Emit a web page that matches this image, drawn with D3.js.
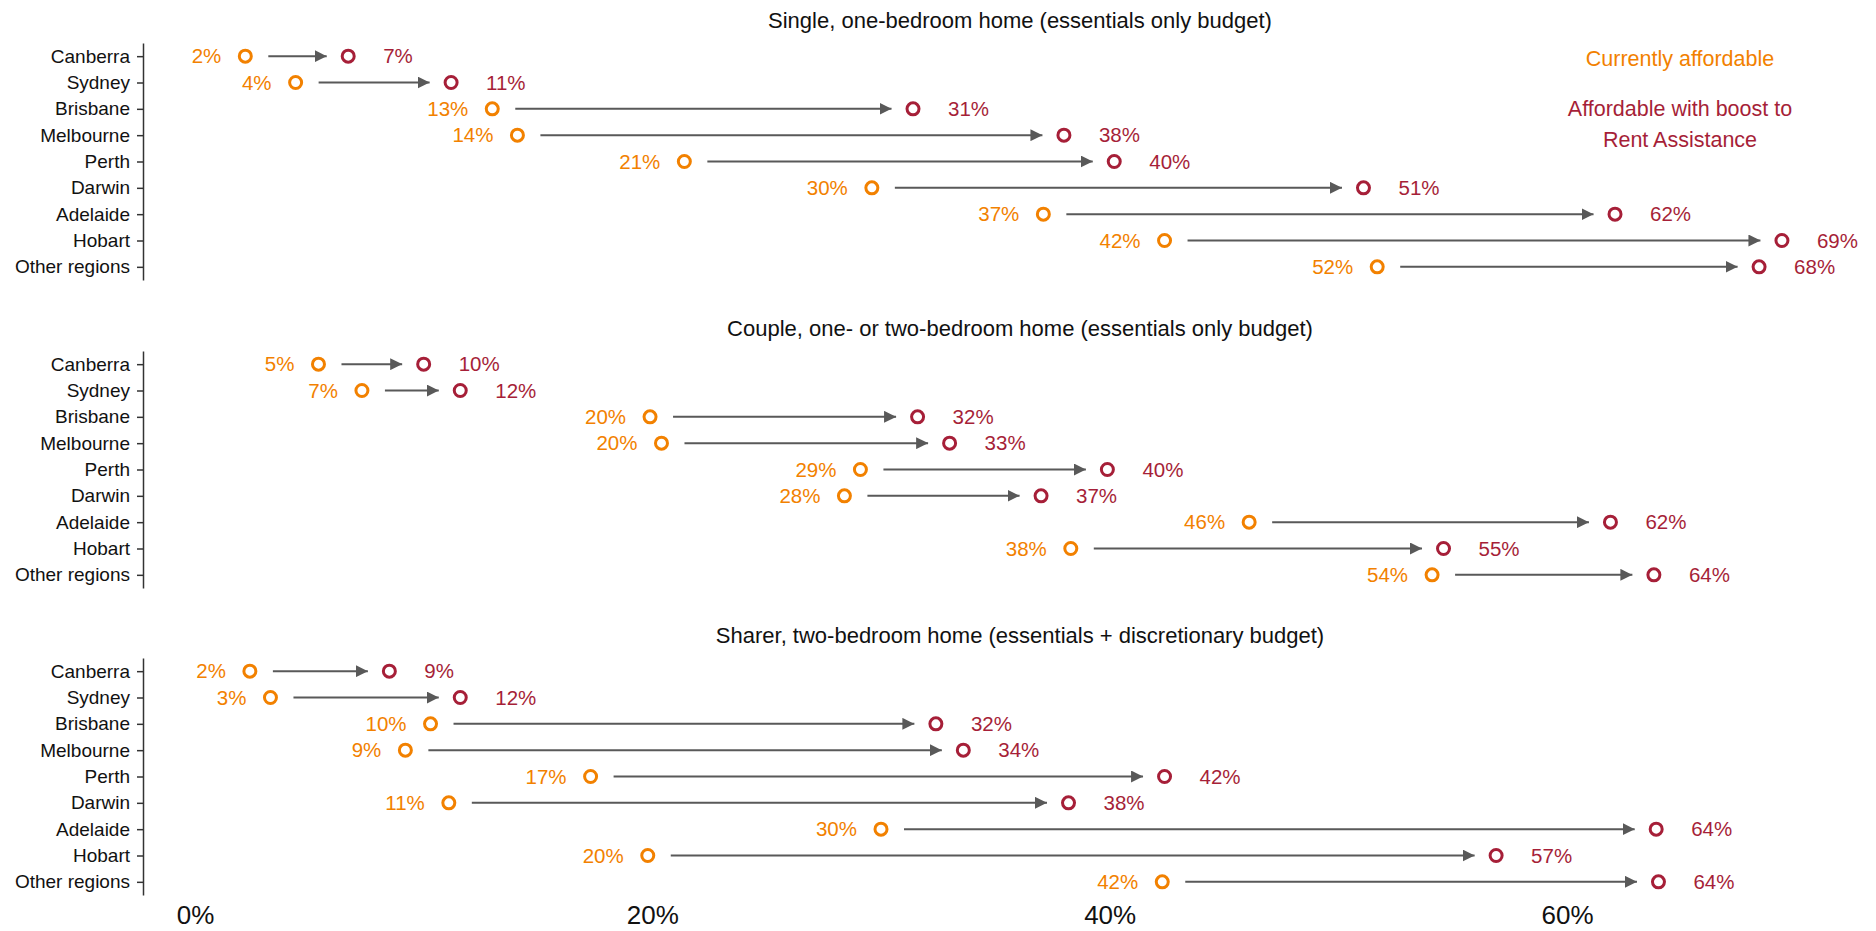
<!DOCTYPE html>
<html>
<head>
<meta charset="utf-8">
<script src="https://cdn.jsdelivr.net/npm/d3@7"></script>
<style>
  body { margin: 0; background: #fff; }
  svg text { font-family: "Liberation Sans", Arial, Helvetica, sans-serif; }
</style>
</head>
<body>
<div id="chart"></div>
<script>
// data (percent of rentals affordable)
var cities = ["Canberra", "Sydney", "Brisbane", "Melbourne", "Perth", "Darwin", "Adelaide", "Hobart", "Other regions"];
var panelTitles = [
	"Single, one-bedroom home (essentials only budget)",
	"Couple, one- or two-bedroom home (essentials only budget)",
	"Sharer, two-bedroom home (essentials + discretionary budget)"
];
var singleNow   = [2.2, 4.4, 13.0, 14.1, 21.4, 29.6, 37.1, 42.4, 51.7];
var singleBoost = [6.7, 11.2, 31.4, 38.0, 40.2, 51.1, 62.1, 69.4, 68.4];
var coupleNow   = [5.4, 7.3, 19.9, 20.4, 29.1, 28.4, 46.1, 38.3, 54.1];
var coupleBoost = [10.0, 11.6, 31.6, 33.0, 39.9, 37.0, 61.9, 54.6, 63.8];
var sharerNow   = [2.4, 3.3, 10.3, 9.2, 17.3, 11.1, 30.0, 19.8, 42.3];
var sharerBoost = [8.5, 11.6, 32.4, 33.6, 42.4, 38.2, 63.9, 56.9, 64.0];
var xTicks = [0, 20, 40, 60];
var legendLabels = ["Currently affordable", "Affordable with boost to", "Rent Assistance"];

var nowSeries = [singleNow, coupleNow, sharerNow];
var boostSeries = [singleBoost, coupleBoost, sharerBoost];

var width = 1876, height = 931;
var orange = "#F28100", red = "#A61F38", grey = "#595959";
var panelOffsets = [0, 308, 615];
var fmt = function(v) { return d3.format(".0f")(v) + "%"; };

var svg = d3.select("#chart").append("svg")
	.attr("width", width)
	.attr("height", height);

svg.append("defs").append("marker")
	.attr("id", "arrow")
	.attr("viewBox", "0 0 12 12")
	.attr("refX", 12)
	.attr("refY", 6)
	.attr("markerWidth", 12)
	.attr("markerHeight", 12)
	.attr("markerUnits", "userSpaceOnUse")
	.attr("orient", "auto")
	.append("path")
	.attr("d", "M0,0L12,6L0,12Z")
	.attr("fill", grey);

var x = d3.scaleLinear()
	.domain([0, 60])
	.range([195, 1567]);

var y = d3.scalePoint()
	.domain(cities)
	.range([43, 280])
	.padding(0.5);

panelTitles.forEach(function(title, p) {
	var g = svg.append("g")
		.attr("transform", "translate(0," + panelOffsets[p] + ")");

	g.append("text")
		.attr("x", 1020)
		.attr("y", 20)
		.attr("text-anchor", "middle")
		.attr("dominant-baseline", "central")
		.style("font-size", "22px")
		.style("fill", "#111")
		.text(title);

	var yAxis = g.append("g")
		.attr("transform", "translate(143,0)")
		.call(d3.axisLeft(y).tickSizeInner(6).tickSizeOuter(0).tickPadding(7));
	yAxis.select(".domain").attr("stroke", "#333").attr("stroke-width", 1.5);
	yAxis.selectAll(".tick line").attr("stroke", "#333").attr("stroke-width", 1.5);
	yAxis.selectAll(".tick text")
		.style("font-size", "19px")
		.style("fill", "#111");

	var rows = cities.map(function(c, i) {
		return {city: c, now: nowSeries[p][i], boost: boostSeries[p][i]};
	});

	var row = g.selectAll(".row")
		.data(rows)
		.enter().append("g")
		.attr("class", "row")
		.attr("transform", function(d) { return "translate(0," + y(d.city) + ")"; });

	row.append("line")
		.attr("x1", function(d) { return x(d.now) + 23; })
		.attr("x2", function(d) { return x(d.boost) - 21.5; })
		.attr("y1", 0)
		.attr("y2", 0)
		.attr("stroke", grey)
		.attr("stroke-width", 2)
		.attr("marker-end", "url(#arrow)");

	row.append("circle")
		.attr("cx", function(d) { return x(d.now); })
		.attr("r", 6)
		.attr("fill", "none")
		.attr("stroke", orange)
		.attr("stroke-width", 3);

	row.append("circle")
		.attr("cx", function(d) { return x(d.boost); })
		.attr("r", 6)
		.attr("fill", "none")
		.attr("stroke", red)
		.attr("stroke-width", 3);

	row.append("text")
		.attr("x", function(d) { return x(d.now) - 24; })
		.attr("dy", "0.35em")
		.attr("text-anchor", "end")
		.style("font-size", "20.5px")
		.style("fill", orange)
		.text(function(d) { return fmt(d.now); });

	row.append("text")
		.attr("x", function(d) { return x(d.boost) + 35; })
		.attr("dy", "0.35em")
		.style("font-size", "20.5px")
		.style("fill", red)
		.text(function(d) { return fmt(d.boost); });
});

// legend
svg.append("text")
	.attr("x", 1680).attr("y", 59)
	.attr("text-anchor", "middle")
	.attr("dominant-baseline", "central")
	.style("font-size", "21.5px")
	.style("fill", orange)
	.text(legendLabels[0]);

svg.selectAll(".legend2")
	.data(legendLabels.slice(1))
	.enter().append("text")
	.attr("x", 1680)
	.attr("y", function(d, i) { return 109 + i * 31; })
	.attr("text-anchor", "middle")
	.attr("dominant-baseline", "central")
	.style("font-size", "21.5px")
	.style("fill", red)
	.text(function(d) { return d; });

// x axis, labels only
var xAxis = svg.append("g")
	.attr("transform", "translate(0,906)")
	.call(d3.axisBottom(x).tickValues(xTicks).tickSize(0).tickPadding(0)
		.tickFormat(function(d) { return d + "%"; }));
xAxis.select(".domain").remove();
xAxis.selectAll(".tick text")
	.style("font-size", "26px")
	.style("fill", "#111");
</script>
</body>
</html>
